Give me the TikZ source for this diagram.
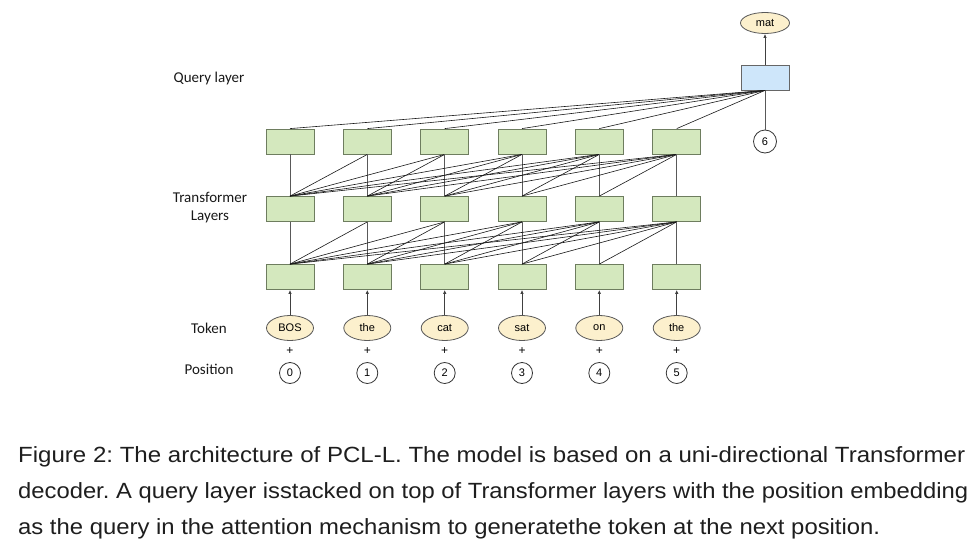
\documentclass[tikz,border=0pt]{standalone}
\usepackage{fontspec}
\setmainfont{Liberation Sans}
\newfontfamily\lblfont{Carlito}
\usetikzlibrary{shapes.geometric,arrows.meta}
\definecolor{gfill}{RGB}{212,232,190}
\definecolor{gdraw}{RGB}{110,125,95}
\definecolor{bfill}{RGB}{206,230,250}
\definecolor{yfill}{RGB}{252,240,205}
\definecolor{capcol}{RGB}{30,30,30}
\frenchspacing
\begin{document}
\begin{tikzpicture}[x=1pt,y=-1pt,
  gbox/.style={draw=gdraw,fill=gfill,line width=0.8pt,minimum width=48pt,minimum height=25pt,inner sep=0pt},
  qbox/.style={draw=gray!80!black,fill=bfill,line width=0.8pt,minimum width=48pt,minimum height=25pt,inner sep=0pt},
  tok/.style={ellipse,draw=gray!70!black,fill=yfill,line width=0.8pt,minimum width=47pt,minimum height=25pt,inner sep=0pt,font=\fontsize{11}{12}\selectfont},
  posc/.style={circle,draw=black!80,line width=0.8pt,minimum size=21pt,inner sep=0pt,font=\fontsize{11}{12}\selectfont},
  lbl/.style={font=\lblfont\fontsize{15}{18}\selectfont,align=center,text=black!90},
  att/.style={line width=0.6pt,black!90},
  vert/.style={line width=0.75pt,black!65},
  up/.style={line width=0.8pt,black!75,-{Latex[length=4pt,width=3.5pt]}},
  captext/.style={anchor=base west,inner sep=0pt,text=capcol,font=\fontsize{22}{27}\selectfont}
]
\useasboundingbox (0,0) rectangle (980,546);
\fill[white] (0,0) rectangle (980,546);
% labels
\node[lbl] (lq) at (209,78) {Query layer};
\node[lbl] (lt) at (210,208) {Transformer\\Layers};
\node[lbl] (ltk) at (209,328) {Token};
\node[lbl] (lp) at (209,369) {Position};
% boxes
\foreach \i/\x in {0/290,1/367.3,2/444.7,3/522,4/599.3,5/676.7}{
  \node[gbox] (t\i) at (\x,141.5) {};
  \node[gbox] (m\i) at (\x,209) {};
  \node[gbox] (b\i) at (\x,277) {};
}
% tokens and positions
\foreach \i/\x/\w in {0/290/BOS,1/367.3/the,2/444.7/cat,3/522/sat,4/599.3/on,5/676.7/the}{
  \node[tok] (k\i) at (\x,328) {\w};
  \node[font=\fontsize{12}{12}\selectfont] (p\i) at (\x,351) {+};
  \node[posc] (c\i) at (\x,373) {\i};
  \draw[up] (k\i.north) -- (b\i.south);
}
% query
\node[qbox] (q) at (765,77.5) {};
\node[tok,minimum width=49pt,minimum height=21pt] (mat) at (765,23) {mat};
\node[posc,minimum size=23pt] (c6) at (765,141.5) {6};
\draw[up] (q.north) -- (mat.south);
\draw[vert] (c6.north) -- (q.south);
\foreach \j in {0,...,5}{
  \draw[att] (q.south) -- (t\j.north);
}
% attention connections
\foreach \j in {0,...,5}{
  \foreach \i in {0,...,\j}{
    \ifnum\i=\j
      \draw[vert] (m\i.north) -- (t\j.south);
      \draw[vert] (b\i.north) -- (m\j.south);
    \else
      \draw[att] (m\i.north) -- (t\j.south);
      \draw[att] (b\i.north) -- (m\j.south);
    \fi
  }
}
% caption
\node[captext] (cap1) at (18,462.5) {\resizebox{947pt}{\height}{Figure 2: The architecture of PCL-L. The model is based on a uni-directional Transformer}};
\node[captext] (cap2) at (18,498.5) {\resizebox{950pt}{\height}{decoder. A query layer isstacked on top of Transformer layers with the position embedding}};
\node[captext] (cap3) at (18,534.5) {\resizebox{862pt}{\height}{as the query in the attention mechanism to generatethe token at the next position.}};
\end{tikzpicture}
\end{document}
